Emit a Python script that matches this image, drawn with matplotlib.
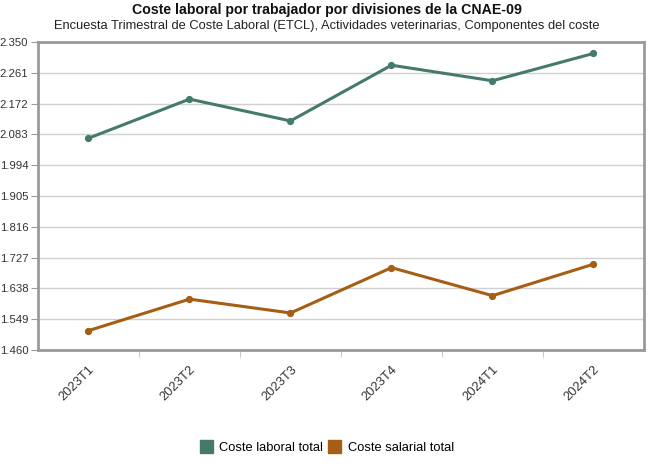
import matplotlib.pyplot as plt
from matplotlib.patches import Patch
from matplotlib.ticker import FixedLocator, FuncFormatter

plt.rcParams["font.family"] = ["Liberation Sans", "DejaVu Sans"]

# quarters and series (euros per worker)
periodos = ["2023T1", "2023T2", "2023T3", "2023T4", "2024T1", "2024T2"]
coste_laboral = [2072, 2185, 2122, 2283, 2238, 2317]
coste_salarial = [1516, 1607, 1567, 1698, 1617, 1708]
y_ticks = [1460, 1549, 1638, 1727, 1816, 1905, 1994, 2083, 2172, 2261, 2350]

verde = "#447a6e"
naranja = "#a65e14"

fig = plt.figure(figsize=(6.54, 4.70), dpi=100)
ax = fig.add_axes([0.0581, 0.2553, 0.9266, 0.6553])

x = range(len(periodos))
ax.plot(x, coste_laboral, color=verde, lw=2.2, marker="o", ms=4.2)
ax.plot(x, coste_salarial, color=naranja, lw=2.2, marker="o", ms=4.2)

ax.set_xlim(-0.5, len(periodos) - 0.5)
ax.set_ylim(y_ticks[0], y_ticks[-1])
ax.yaxis.set_major_locator(FixedLocator(y_ticks))
ax.yaxis.set_major_formatter(FuncFormatter(lambda v, p: f"{v:,.0f}".replace(",", ".")))
ax.set_xticks(list(x))
ax.set_xticklabels(periodos, rotation=45, ha="right", rotation_mode="anchor")
# tick marks sit between the categories
ax.xaxis.set_minor_locator(FixedLocator([i + 0.5 for i in range(len(periodos) - 1)]))
ax.grid(axis="y", color="#d0d0d0", lw=1)
ax.set_axisbelow(True)

for s in ax.spines.values():
    s.set_color("#9a9a9a")
    s.set_linewidth(2)
ax.tick_params(axis="both", colors="#9a9a9a", labelcolor="#333333", labelsize=8.2, length=5)
ax.tick_params(axis="y", pad=2)
ax.tick_params(axis="x", which="major", length=0, pad=10, labelsize=9.3)
ax.tick_params(axis="x", which="minor", length=5, color="#bbbbbb")

fig.text(0.5, 0.978, "Coste laboral por trabajador por divisiones de la CNAE-09",
         ha="center", va="center", fontsize=10.2, fontweight="bold", color="#111111")
fig.text(0.5, 0.945, "Encuesta Trimestral de Coste Laboral (ETCL), Actividades veterinarias, Componentes del coste",
         ha="center", va="center", fontsize=9.3, color="#222222")

handles = [Patch(color=verde, label="Coste laboral total"),
           Patch(color=naranja, label="Coste salarial total")]
fig.legend(handles=handles, loc="center", bbox_to_anchor=(0.5, 0.049), ncol=2, frameon=False,
           fontsize=9.3, handlelength=1.0, handleheight=1.2, handletextpad=0.5, columnspacing=0.4)

fig.savefig("out.png", dpi=100)
